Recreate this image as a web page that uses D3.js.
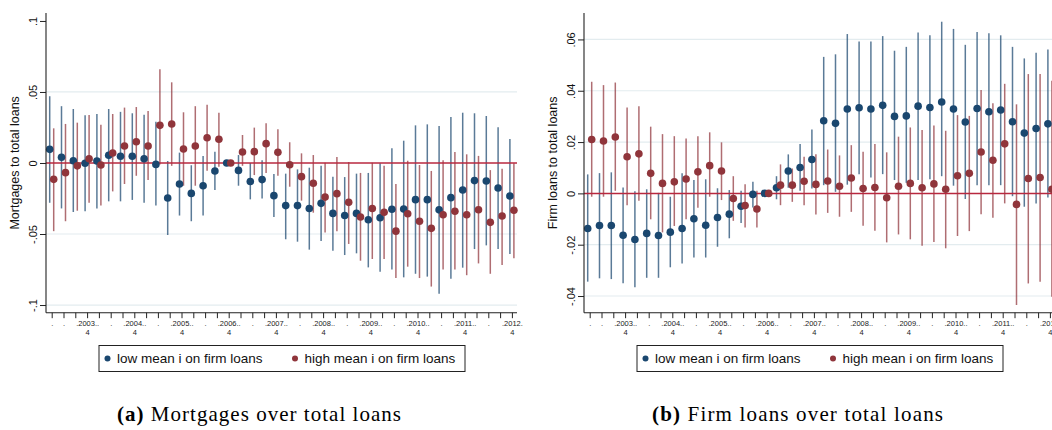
<!DOCTYPE html>
<html>
<head>
<meta charset="utf-8">
<script src="https://cdn.jsdelivr.net/npm/d3@7/dist/d3.min.js"></script>
<style>
  html, body { margin: 0; padding: 0; background: #ffffff; }
  svg { display: block; }
</style>
</head>
<body>
<script>
// ---------- categories ----------
const periods = [
  "2003q1","2003q2","2003q3","2003q4","2004q1","2004q2","2004q3","2004q4",
  "2005q1","2005q2","2005q3","2005q4","2006q1","2006q2","2006q3","2006q4",
  "2007q1","2007q2","2007q3","2007q4","2008q1","2008q2","2008q3","2008q4",
  "2009q1","2009q2","2009q3","2009q4","2010q1","2010q2","2010q3","2010q4",
  "2011q1","2011q2","2011q3","2011q4","2012q1","2012q2","2012q3","2012q4"
];
// tick label lines (as printed in the reference)
const tickTop = [
  ".", ".", "", ".2003..", "", ".", "", ".2004..", "", ".", "", ".2005..",
  "", ".", "", ".2006..", "", ".", "", ".2007..", "", ".", "", ".2008..",
  "", ".", "", ".2009..", "", ".", "", ".2010..", "", ".", "", ".2011..",
  "", ".", "", ".2012."
];
const tickBottom = [
  "", "", "", "4", "", "", "", "4", "", "", "", "4",
  "", "", "", "4", "", "", "", "4", "", "", "", "4",
  "", "", "", "4", "", "", "", "4", "", "", "", "4",
  "", "", "", "4"
];
const seriesNames = ["low mean i on firm loans", "high mean i on firm loans"];

// ---------- panel (a): mortgages to total loans ----------
const mortYTicks = [-0.1, -0.05, 0, 0.05, 0.1];
const mortYTickLabels = ["-.1", "-.05", "0", ".05", ".1"];
const mortLowEst = [0.0096,0.004,0.0016,-0.0002,0.0014,0.0054,0.0047,0.0047,0.003,-0.001,
  -0.0246,-0.0148,-0.0214,-0.016,-0.0056,0,-0.0052,-0.013,-0.0117,-0.023,
  -0.030,-0.030,-0.032,-0.0284,-0.0355,-0.037,-0.0355,-0.040,-0.0385,-0.0326,
  -0.0324,-0.0258,-0.0258,-0.033,-0.0244,-0.019,-0.0124,-0.0127,-0.0176,-0.0232];
const mortLowLo = [-0.028,-0.032,-0.0345,-0.034,-0.032,-0.027,-0.027,-0.026,-0.028,-0.030,
  -0.0507,-0.037,-0.041,-0.037,-0.019,0,-0.016,-0.0256,-0.025,-0.038,
  -0.0537,-0.0554,-0.061,-0.055,-0.0617,-0.0648,-0.0636,-0.0735,-0.0765,-0.075,
  -0.0805,-0.078,-0.080,-0.092,-0.0815,-0.0737,-0.0606,-0.058,-0.0606,-0.064];
const mortLowHi = [0.047,0.040,0.038,0.0336,0.0345,0.038,0.036,0.035,0.034,0.029,
  0.0014,0.0073,-0.0016,0.005,0.008,0,0.0056,0.0,0.002,-0.0077,
  -0.0075,-0.0045,-0.0033,-0.002,-0.0096,-0.0099,-0.0075,-0.007,-0.0002,0.0103,
  0.0157,0.0265,0.0272,0.026,0.0324,0.0354,0.035,0.0331,0.0251,0.0169];
const mortHighEst = [-0.0115,-0.0068,-0.002,0.003,-0.0014,0.007,0.012,0.015,0.012,0.0265,
  0.0275,0.0099,0.012,0.0178,0.0167,0,0.0077,0.008,0.0136,0.0075,
  -0.0012,-0.0096,-0.0143,-0.024,-0.0216,-0.0277,-0.038,-0.032,-0.0347,-0.048,
  -0.0357,-0.041,-0.046,-0.0364,-0.034,-0.0364,-0.0329,-0.0418,-0.0373,-0.0333];
const mortHighLo = [-0.048,-0.041,-0.0336,-0.028,-0.030,-0.020,-0.0148,-0.009,-0.012,-0.001,
  -0.002,-0.016,-0.016,-0.0054,-0.0026,0,-0.002,-0.0085,-0.007,-0.009,
  -0.0167,-0.0265,-0.035,-0.049,-0.048,-0.057,-0.0688,-0.0676,-0.0676,-0.081,
  -0.073,-0.081,-0.087,-0.0749,-0.075,-0.079,-0.0707,-0.078,-0.0718,-0.067];
const mortHighHi = [0.0244,0.0275,0.0284,0.0338,0.027,0.0345,0.039,0.0394,0.0366,0.066,
  0.0568,0.0357,0.040,0.041,0.0354,0,0.0197,0.0249,0.028,0.0237,
  0.0146,0.0068,0.0056,0.0002,0.0042,0.0007,-0.007,0.0002,-0.002,-0.0148,
  0.0016,-0.0014,-0.0056,0.0019,0.0077,0.0061,0.005,-0.005,-0.004,-0.0002];

// ---------- panel (b): firm loans to total loans ----------
const firmYTicks = [-0.04, -0.02, 0, 0.02, 0.04, 0.06];
const firmYTickLabels = ["-.04", "-.02", "0", ".02", ".04", ".06"];
const firmLowEst = [-0.0137,-0.0125,-0.0125,-0.0163,-0.018,-0.0156,-0.0164,-0.0151,-0.0137,-0.0099,
  -0.0124,-0.0094,-0.0081,-0.005,-0.0004,0,0.0022,0.0087,0.0101,0.0132,
  0.0283,0.0273,0.0329,0.0334,0.0329,0.0343,0.030,0.0302,0.034,0.0335,
  0.0356,0.0329,0.0278,0.0331,0.0318,0.0325,0.0279,0.0235,0.0253,0.0271];
const firmLowLo = [-0.0344,-0.0331,-0.0334,-0.035,-0.0366,-0.0329,-0.0329,-0.0288,-0.0273,-0.025,
  -0.025,-0.0208,-0.0175,-0.0115,-0.0055,0,-0.0023,0.0022,0.001,0.0019,
  0.0032,0.0006,0.0034,0.0075,0.0062,0.0075,0.0052,0.0041,0.0052,0.0055,
  0.0067,0.003,-0.0022,0.0032,0.0032,0.0032,-0.0011,-0.0052,-0.0039,-0.0016];
const firmLowHi = [0.0074,0.0079,0.0082,0.0023,0.0008,0.0016,0.0002,-0.0013,0.0078,0.0052,
  0.0055,0.002,0.0013,0.001,0.0045,0,0.0067,0.0152,0.0192,0.0249,
  0.0532,0.0542,0.0621,0.0592,0.0592,0.0613,0.0556,0.0571,0.0627,0.0616,
  0.0669,0.0641,0.0579,0.0629,0.0624,0.0616,0.0571,0.0526,0.0548,0.0561];
const firmHighEst = [0.021,0.0204,0.022,0.0143,0.0154,0.0078,0.0039,0.0045,0.0056,0.0084,
  0.0108,0.0087,-0.002,-0.0047,-0.0061,0,0.0032,0.0032,0.0047,0.0035,
  0.0048,0.0028,0.006,0.0019,0.0023,-0.0017,0.0028,0.0039,0.0022,0.0037,
  0.0016,0.0069,0.0078,0.0161,0.0129,0.0193,-0.0043,0.0058,0.0062,0.0016];
const firmHighLo = [-0.0013,-0.0013,0.001,-0.0046,-0.0029,-0.0101,-0.0152,-0.0127,-0.0101,-0.0056,
  -0.0013,-0.0026,-0.0107,-0.0133,-0.0133,0,-0.0046,-0.0033,-0.0046,-0.0082,
  -0.0076,-0.0091,-0.0072,-0.0126,-0.0146,-0.0191,-0.016,-0.0179,-0.0204,-0.0189,
  -0.0214,-0.0166,-0.0147,-0.0081,-0.0095,-0.0039,-0.0435,-0.0351,-0.0344,-0.0403];
const firmHighHi = [0.0435,0.0422,0.0432,0.0335,0.034,0.026,0.0231,0.0223,0.0214,0.0223,
  0.0238,0.0199,0.0067,0.0036,0.001,0,0.0113,0.0097,0.0143,0.0153,
  0.0171,0.0148,0.0188,0.0162,0.0192,0.016,0.0221,0.0257,0.0247,0.0265,
  0.0244,0.0305,0.0302,0.0403,0.0351,0.0427,0.0347,0.0465,0.0465,0.0439];

// ---------- drawing ----------
const W = 1052, H = 430;
const NAVY = "#1a476f", MAROON = "#90353b";
const sansFont = "'Liberation Sans', Arial, Helvetica, sans-serif";
const serifFont = "'Liberation Serif', 'Times New Roman', serif";

const svg = d3.select("body").append("svg")
  .attr("width", W).attr("height", H)
  .style("background", "#fff");

function panel(opts) {
  const ox = opts.offsetX;
  const g = svg.append("g").attr("transform", `translate(${ox},0)`);
  const axisX = 46, plotRight = 517, plotTop = 13, plotBottom = 312.7;

  const x = d3.scaleLinear().domain([0, periods.length - 1]).range([51.7, 511.9]);
  const y = d3.scaleLinear().domain(opts.yDomain).range([plotBottom, plotTop]);
  const dodge = 2;

  // gridlines
  g.append("g").selectAll("line")
    .data(opts.yTicks.filter(t => t !== 0 && opts.gridTicks.includes(t)))
    .join("line")
    .attr("x1", axisX).attr("x2", plotRight)
    .attr("y1", d => y(d)).attr("y2", d => y(d))
    .attr("stroke", "#e3ecef").attr("stroke-width", 1.2);

  // CI spikes
  const spikes = (est, lo, hi, color, dx) => {
    g.append("g").selectAll("line")
      .data(periods.map((p, i) => ({ i, lo: lo[i], hi: hi[i] })).filter(d => d.hi !== d.lo))
      .join("line")
      .attr("x1", d => x(d.i) + dx).attr("x2", d => x(d.i) + dx)
      .attr("y1", d => y(d.lo)).attr("y2", d => y(d.hi))
      .attr("stroke", color).attr("stroke-width", 1.5).attr("stroke-opacity", 0.72);
  };
  spikes(opts.lowEst, opts.lowLo, opts.lowHi, NAVY, -dodge);
  spikes(opts.highEst, opts.highLo, opts.highHi, MAROON, dodge);

  // zero reference line
  g.append("line")
    .attr("x1", axisX).attr("x2", plotRight)
    .attr("y1", y(0)).attr("y2", y(0))
    .attr("stroke", "#b8283f").attr("stroke-width", 1.5);

  // points
  const dots = (est, color, dx) => {
    g.append("g").selectAll("circle")
      .data(est.map((v, i) => ({ i, v })))
      .join("circle")
      .attr("cx", d => x(d.i) + dx).attr("cy", d => y(d.v))
      .attr("r", 3.8).attr("fill", color);
  };
  dots(opts.lowEst, NAVY, -dodge);
  dots(opts.highEst, MAROON, dodge);

  // y axis
  const yAxis = d3.axisLeft(y).tickValues(opts.yTicks)
    .tickFormat((d, i) => opts.yTickLabels[i]).tickSize(6).tickSizeOuter(0);
  const ya = g.append("g").attr("transform", `translate(${axisX},0)`).call(yAxis);
  ya.select(".domain").attr("d", `M0,${plotTop}V${plotBottom}`).attr("stroke", "#222").attr("stroke-width", 1.1);
  ya.selectAll(".tick line").attr("stroke", "#222");
  ya.selectAll(".tick text")
    .attr("x", null).attr("dy", null)
    .attr("transform", "translate(-9,0) rotate(-90)")
    .attr("text-anchor", "middle")
    .style("font-family", sansFont).style("font-size", "11px").attr("fill", "#111");

  // x axis
  const xAxis = d3.axisBottom(x).tickValues(d3.range(periods.length))
    .tickFormat(() => "").tickSize(5.5).tickSizeOuter(0);
  const xa = g.append("g").attr("transform", `translate(0,${plotBottom})`).call(xAxis);
  xa.select(".domain").attr("d", `M${axisX},0H${plotRight}`).attr("stroke", "#222").attr("stroke-width", 1.1);
  xa.selectAll(".tick line").attr("stroke", "#222");
  xa.selectAll(".tick text").remove();
  xa.selectAll(".tick").each(function (d, i) {
    const t = d3.select(this);
    if (tickTop[i]) t.append("text").attr("y", 13).attr("text-anchor", "middle")
      .style("font-family", sansFont).style("font-size", "7.5px").attr("fill", "#222").text(tickTop[i]);
    if (tickBottom[i]) t.append("text").attr("y", 22.5).attr("text-anchor", "middle")
      .style("font-family", sansFont).style("font-size", "7.5px").attr("fill", "#222").text(tickBottom[i]);
  });

  // y title
  g.append("text")
    .attr("transform", `translate(19,${(plotTop + plotBottom) / 2}) rotate(-90)`)
    .attr("text-anchor", "middle")
    .style("font-family", sansFont).style("font-size", "12.5px").attr("fill", "#111")
    .text(opts.yTitle);

  // legend
  const lg = g.append("g");
  lg.append("rect").attr("x", 99).attr("y", 345.5).attr("width", 366).attr("height", 26)
    .attr("fill", "#fff").attr("stroke", "#222").attr("stroke-width", 1);
  const items = [{ name: seriesNames[0], c: NAVY, mx: 107.5, tx: 117 },
                 { name: seriesNames[1], c: MAROON, mx: 295, tx: 304.5 }];
  items.forEach(it => {
    lg.append("circle").attr("cx", it.mx).attr("cy", 358.5).attr("r", 3).attr("fill", it.c);
    lg.append("text").attr("x", it.tx).attr("y", 363).style("font-family", sansFont)
      .style("font-size", "13.5px").attr("fill", "#111").text(it.name);
  });

  // caption
  const cap = g.append("text").attr("x", opts.capX).attr("y", 421)
    .attr("textLength", opts.capWidth).attr("lengthAdjust", "spacing")
    .style("font-family", serifFont).style("font-size", "21px").attr("fill", "#000");
  cap.append("tspan").style("font-weight", "bold").text(opts.capTag);
  cap.append("tspan").text(" " + opts.capText);
}

panel({
  offsetX: 0,
  yDomain: [-0.1054, 0.1056],
  yTicks: mortYTicks, yTickLabels: mortYTickLabels, gridTicks: [-0.1, -0.05, 0.05],
  lowEst: mortLowEst, lowLo: mortLowLo, lowHi: mortLowHi,
  highEst: mortHighEst, highLo: mortHighLo, highHi: mortHighHi,
  yTitle: "Mortgages to total loans",
  capTag: "(a)", capText: "Mortgages over total loans", capX: 117, capWidth: 284
});
panel({
  offsetX: 538,
  yDomain: [-0.0465, 0.0703],
  yTicks: firmYTicks, yTickLabels: firmYTickLabels, gridTicks: [-0.04, -0.02, 0.02, 0.04, 0.06],
  lowEst: firmLowEst, lowLo: firmLowLo, lowHi: firmLowHi,
  highEst: firmHighEst, highLo: firmHighLo, highHi: firmHighHi,
  yTitle: "Firm loans to total loans",
  capTag: "(b)", capText: "Firm loans over total loans", capX: 114, capWidth: 291
});
</script>
</body>
</html>
